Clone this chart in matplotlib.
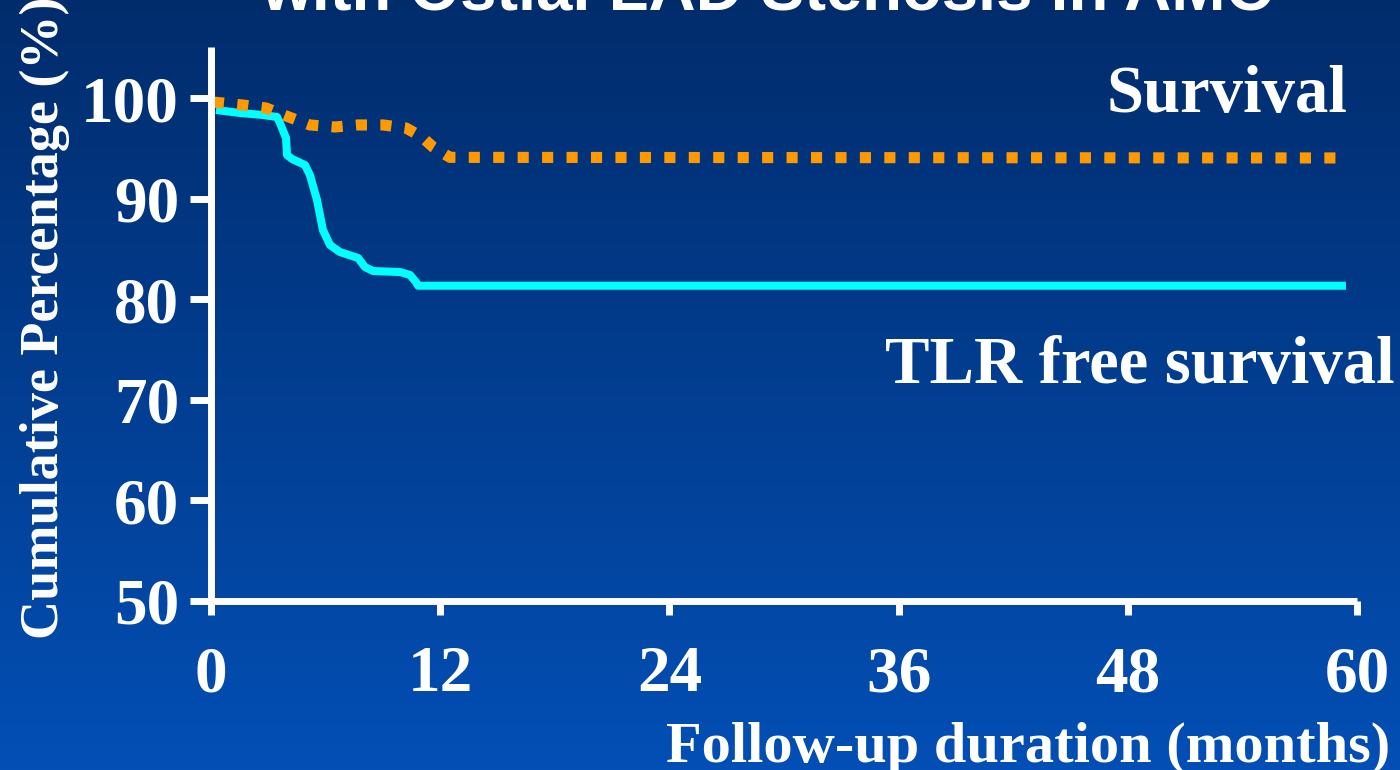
import numpy as np
import matplotlib
matplotlib.use("Agg")
import matplotlib.pyplot as plt
from matplotlib.colors import LinearSegmentedColormap

# ---- data ----
surv_months = [0.1, 1.68, 2.88, 4.08, 5.18, 6.49, 7.70, 9.01, 10.21, 11.05, 11.62, 12.51, 59.42]
surv_pct = [99.6, 99.30, 99.01, 98.11, 97.32, 97.12, 97.32, 97.32, 97.02, 96.12, 95.13, 94.10, 94.04]

tlr_months = [0.26, 1.52, 2.72, 3.46, 3.61, 3.93, 3.98, 4.24, 4.92, 5.18, 5.55, 5.86,
              6.23, 6.75, 7.70, 8.06, 8.48, 9.90, 10.42, 10.73, 10.84, 59.42]
tlr_pct = [98.81, 98.51, 98.31, 98.11, 97.51, 96.02, 94.33, 93.94, 93.34, 92.35, 89.86, 86.88,
           85.39, 84.69, 84.10, 83.20, 82.80, 82.70, 82.41, 81.71, 81.34, 81.34]

x_ticks = [0, 12, 24, 36, 48, 60]
y_ticks = [50, 60, 70, 80, 90, 100]

title_text = "with Ostial LAD Stenosis in AMC"
x_label = "Follow-up duration (months)"
y_label = "Cumulative Percentage (%)"
surv_label = "Survival"
tlr_label = "TLR free survival"

W, H = 1400, 770
fig = plt.figure(figsize=(W / 100, H / 100), dpi=100)

# background gradient
bg = fig.add_axes([0, 0, 1, 1], zorder=0)
cmap = LinearSegmentedColormap.from_list("bg", ["#012c6c", "#034fb5"])
grad = np.linspace(0, 1, 256).reshape(-1, 1)
bg.imshow(grad, aspect="auto", cmap=cmap, extent=[0, 1, 0, 1], origin="upper")
bg.set_axis_off()

serif = ["Liberation Serif", "DejaVu Serif"]
sans = ["Liberation Sans", "DejaVu Sans"]

ax = fig.add_axes([211 / W, 1 - 601 / H, 1146 / W, 554 / H], zorder=1)
ax.patch.set_alpha(0)
ax.set_xlim(0, 60)
ax.set_ylim(50, 105.07)

ax.plot(tlr_months, tlr_pct, color="#00ffff", lw=5.8, solid_capstyle="butt",
        solid_joinstyle="round", clip_on=False)
ax.plot(surv_months, surv_pct, color="#ff9900", lw=8.0, dashes=(1.0, 1.2),
        dash_capstyle="butt", clip_on=False)

for s in ["top", "right"]:
    ax.spines[s].set_visible(False)
for s in ["left", "bottom"]:
    ax.spines[s].set_color("white")
    ax.spines[s].set_linewidth(5)
    ax.spines[s].set_capstyle("butt")

ax.set_xticks(x_ticks)
ax.set_yticks(y_ticks)
ax.tick_params(axis="x", direction="out", length=10, width=5, color="white",
               pad=22, labelcolor="white", labelsize=47)
ax.tick_params(axis="y", direction="out", length=15, width=5, color="white",
               pad=8, labelcolor="white", labelsize=47)
for lab in ax.get_xticklabels() + ax.get_yticklabels():
    lab.set_family(serif)
    lab.set_fontweight("bold")

fig.text(1390 / W, 1 - 762 / H, x_label, ha="right", va="baseline",
         color="white", fontsize=42, fontweight="bold", family=serif)
fig.text(45 / W, 1 - 318 / H, y_label, ha="center", va="center", rotation=90,
         color="white", fontsize=39, fontweight="bold", family=serif)
fig.text(1347 / W, 1 - 112 / H, surv_label, ha="right", va="baseline",
         color="white", fontsize=48, fontweight="bold", family=serif)
fig.text(1395 / W, 1 - 383 / H, tlr_label, ha="right", va="baseline",
         color="white", fontsize=48, fontweight="bold", family=serif)
fig.text(767 / W, 1 - 10 / H, title_text, ha="center", va="baseline",
         color="white", fontsize=47, fontweight="bold", family=sans)

fig.savefig("out.png", dpi=100)
